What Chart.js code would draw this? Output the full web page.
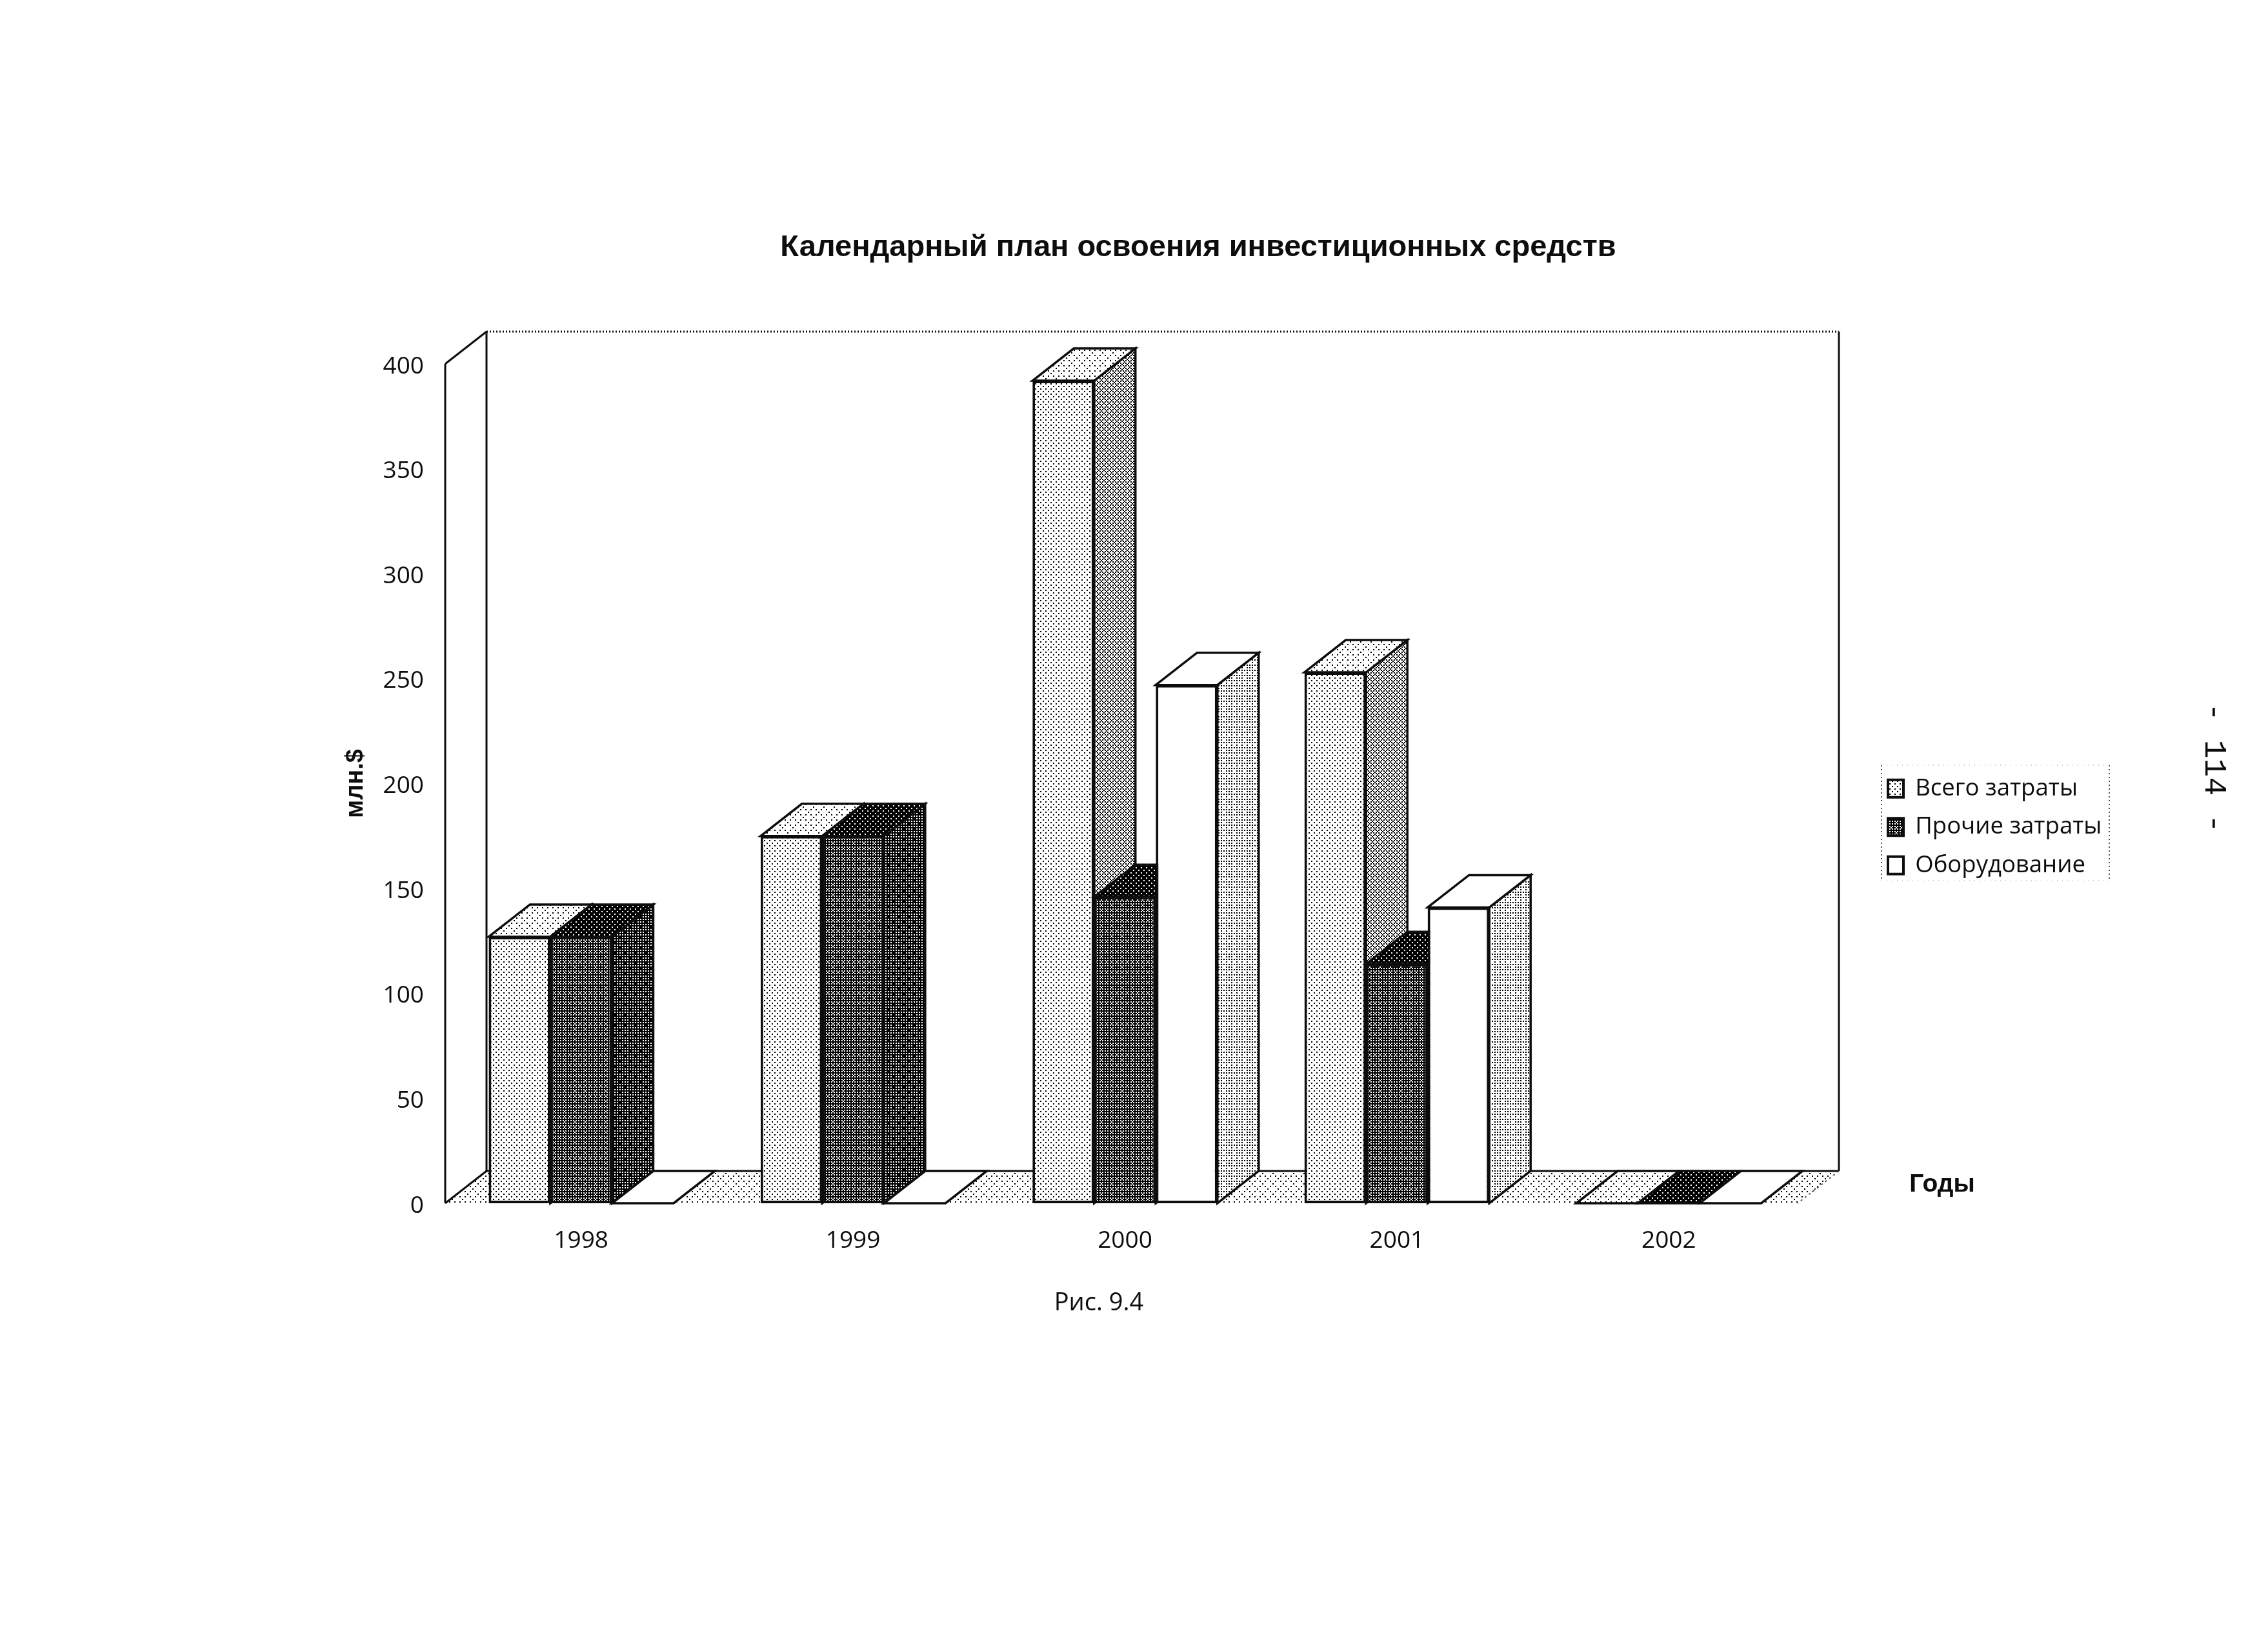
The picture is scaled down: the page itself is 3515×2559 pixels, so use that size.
<!DOCTYPE html>
<html lang="ru">
<head>
<meta charset="utf-8">
<title>Рис. 9.4</title>
<script src="https://cdn.jsdelivr.net/npm/chart.js@4"></script>
<style>
html,body{margin:0;padding:0;background:#fff;}
canvas{display:block;}
</style>
</head>
<body>
<canvas id="c" width="3515" height="2559"></canvas>
<script>
const years = ['1998','1999','2000','2001','2002'];
const totalCosts = [127,175,392,253,0];
const otherCosts = [127,175,146,114,0];
const equipment  = [0,0,247,141,0];
const seriesNames = ['Всего затраты','Прочие затраты','Оборудование'];
const chartTitle = 'Календарный план освоения инвестиционных средств';
const yAxisTitle = 'млн.$';
const xAxisTitle = 'Годы';
const caption = 'Рис. 9.4';
const pageMark = '- 114 -';

const INK = '#0d0d0d';
const DX = 64, DY = 50;
const TARGET = {left:690,right:2797,top:564,bottom:1865};
const WALL_RIGHT = 2786;
const LEGEND_FRAME = {left:2916,right:3269,top:1186,bottom:1365};

const BAYER = [[0,32,8,40,2,34,10,42],[48,16,56,24,50,18,58,26],[12,44,4,36,14,46,6,38],[60,28,52,20,62,30,54,22],
               [3,35,11,43,1,33,9,41],[51,19,59,27,49,17,57,25],[15,47,7,39,13,45,5,37],[63,31,55,23,61,29,53,21]];
function stipple(level){
  const cell = 2, t = document.createElement('canvas');
  t.width = t.height = 8*cell;
  const x = t.getContext('2d');
  x.fillStyle = '#fff'; x.fillRect(0,0,t.width,t.height);
  x.fillStyle = '#000';
  for(let r=0;r<8;r++)for(let c=0;c<8;c++){
    if((BAYER[r][c]+0.5)/64 > level) x.fillRect(c*cell,r*cell,cell,cell);
  }
  return document.getElementById('c').getContext('2d').createPattern(t,'repeat');
}
const faces = [
  {front:stipple(0.88), side:stipple(0.62), top:stipple(0.90)},
  {front:stipple(0.30), side:stipple(0.22), top:stipple(0.12)},
  {front:'#ffffff',     side:stipple(0.80), top:'#ffffff'}
];
const floorFill = stipple(0.90);

function poly(ctx,pts,fill,stroke,lw){
  ctx.beginPath();
  pts.forEach((p,i)=> i?ctx.lineTo(p[0],p[1]):ctx.moveTo(p[0],p[1]));
  ctx.closePath();
  if(fill){ctx.fillStyle=fill;ctx.fill();}
  if(stroke){ctx.strokeStyle=stroke;ctx.lineWidth=lw||3;ctx.lineJoin='miter';ctx.stroke();}
}
function seg(ctx,a,b,lw,dash,color){
  ctx.save();
  ctx.beginPath();ctx.moveTo(a[0],a[1]);ctx.lineTo(b[0],b[1]);
  ctx.strokeStyle=color||INK;ctx.lineWidth=lw||3;ctx.setLineDash(dash||[]);ctx.stroke();
  ctx.restore();
}

const scene = {
  id:'scene',
  afterLayout(chart){
    const t = chart.titleBlock;
    if(t){ const h=t.height; t.left=1857-900; t.right=1857+900; t.width=1800; t.top=384-h/2; t.bottom=t.top+h; }
    const l = chart.legend;
    if(l){ l.left=2903; l.right=3400; l.width=497; l.top=1181; l.bottom=1500; l.height=319; }
  },
  beforeDatasetsDraw(chart){
    const {ctx,chartArea:a} = chart;
    ctx.save();
    const fl=[a.left,a.bottom], fr=[WALL_RIGHT,a.bottom], bl=[a.left+DX,a.bottom-DY], br=[WALL_RIGHT+DX,a.bottom-DY];
    const tl=[a.left+DX,a.top-DY], tr=[WALL_RIGHT+DX,a.top-DY], ftl=[a.left,a.top];
    poly(ctx,[tl,tr,br,bl],'#fff');
    poly(ctx,[ftl,tl,bl,fl],'#fff');
    poly(ctx,[fl,bl,br,fr],floorFill);
    seg(ctx,tl,tr,3,[2,3]);
    seg(ctx,tr,br,3);
    seg(ctx,bl,br,3);
    seg(ctx,tl,bl,3);
    seg(ctx,ftl,tl,3);
    seg(ctx,ftl,fl,3);
    seg(ctx,fl,bl,3);
    seg(ctx,br,fr,2,[3,5],'#555');
    // paint bars left to right so that each series hides the side of the one before it
    chart.data.datasets.forEach((ds,index)=>{
      const meta = chart.getDatasetMeta(index), f = faces[index];
      meta.data.forEach(bar=>{
        const hw=bar.width/2, L=bar.x-hw, R=bar.x+hw, T=bar.y, B=bar.base;
        if(B-T>0.5) poly(ctx,[[R,T],[R+DX,T-DY],[R+DX,B-DY],[R,B]],f.side,INK,3.5);
        poly(ctx,[[L,T],[L+DX,T-DY],[R+DX,T-DY],[R,T]],f.top,INK,3.5);
      });
      meta.controller.draw();
    });
    ctx.restore();
    return false;
  },
  afterDraw(chart){
    const {ctx} = chart;
    ctx.save();
    ctx.fillStyle=INK;
    ctx.textBaseline='middle';
    ctx.textAlign='center';
    ctx.font='bold 39px "Liberation Sans"';
    ctx.fillText(xAxisTitle,3010,1836);
    ctx.font='38px "Open Sans"';
    ctx.fillText(caption,1703,2020);
    ctx.save();
    ctx.translate(3431,1190);ctx.rotate(Math.PI/2);
    ctx.font='48px "Liberation Mono"';
    ctx.fillText(pageMark,0,0);
    ctx.restore();
    const L=LEGEND_FRAME;
    seg(ctx,[L.left,L.top],[L.left,L.bottom],2,[2,4],'#555');
    seg(ctx,[L.right,L.top],[L.right,L.bottom],2,[2,4],'#555');
    seg(ctx,[L.left,L.top],[L.right,L.top],1,[1,7],'#999');
    seg(ctx,[L.left,L.bottom],[L.right,L.bottom],1,[1,7],'#999');
    ctx.restore();
  }
};

const mk = (label,data,i)=>({
  label, data,
  backgroundColor:faces[i].front,
  borderColor:INK, borderWidth:4, borderSkipped:false,
  categoryPercentage:0.68, barPercentage:1
});

const chart = new Chart(document.getElementById('c'),{
  type:'bar',
  plugins:[scene],
  data:{labels:years,datasets:[mk(seriesNames[0],totalCosts,0),mk(seriesNames[1],otherCosts,1),mk(seriesNames[2],equipment,2)]},
  options:{
    responsive:false, animation:false, devicePixelRatio:1,
    layout:{padding:{left:400,right:400,top:400,bottom:500}},
    plugins:{
      tooltip:{enabled:false},
      title:{display:true,text:chartTitle,padding:0,color:INK,
        font:{family:'"Liberation Sans"',size:47,weight:'bold'}},
      legend:{display:true,position:'right',align:'start',
        labels:{boxWidth:24,boxHeight:27,padding:23,color:INK,
          font:{family:'"Open Sans"',size:36.5}}}
    },
    scales:{
      x:{grid:{display:false,drawTicks:false},border:{display:false},
        ticks:{color:INK,padding:36,maxRotation:0,font:{family:'"Open Sans"',size:37}}},
      y:{min:0,max:400,grid:{display:false,drawTicks:false},border:{display:false},
        ticks:{stepSize:50,color:INK,padding:33,labelOffset:4,font:{family:'"Open Sans"',size:37}},
        title:{display:true,text:yAxisTitle,color:INK,padding:{top:0,bottom:-14},
          font:{family:'"Liberation Sans"',size:38,weight:'bold'}}}
    }
  }
});
const a = chart.chartArea, p = chart.options.layout.padding;
p.left += TARGET.left-a.left;
p.right += a.right-TARGET.right;
p.top += TARGET.top-a.top;
p.bottom += a.bottom-TARGET.bottom;
chart.update('none');
</script>
</body>
</html>
